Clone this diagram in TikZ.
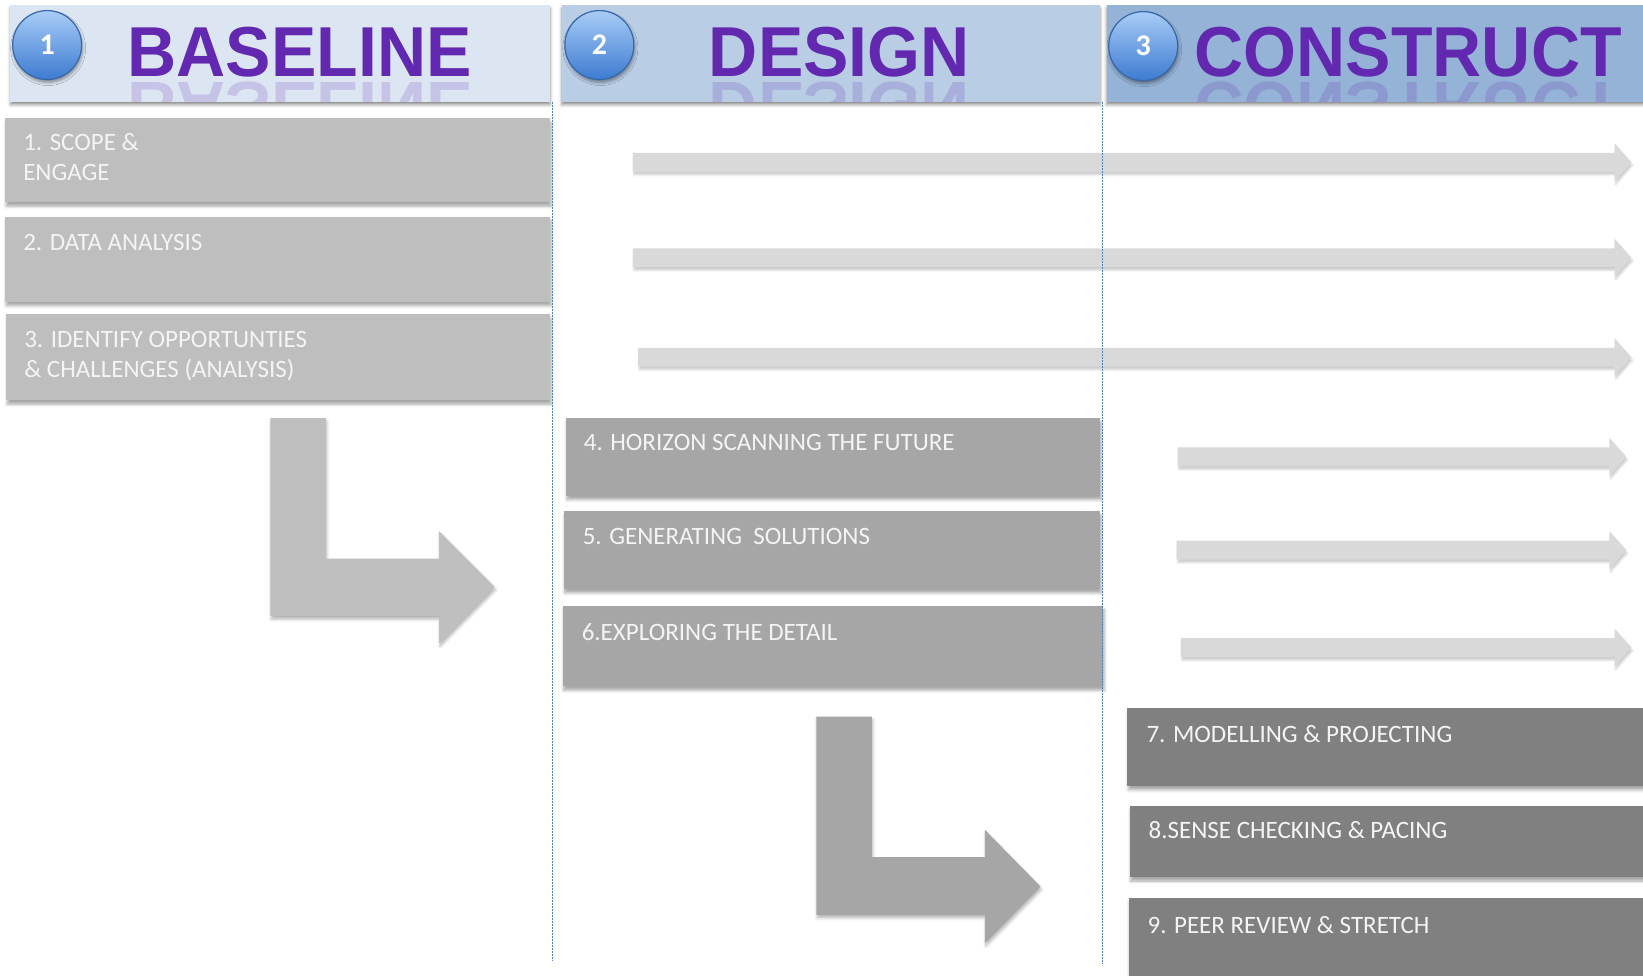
\documentclass[tikz,border=0pt]{standalone}
\usepackage{fontspec}
\setmainfont{Carlito}
\newfontfamily\titlefont{Liberation Sans}
\usetikzlibrary{fit,shadows.blur}
\definecolor{hdrA}{HTML}{DCE6F2}
\definecolor{hdrB}{HTML}{B9CDE5}
\definecolor{hdrC}{HTML}{95B3D7}
\definecolor{boxA}{HTML}{BEBEBE}
\definecolor{boxB}{HTML}{A6A6A6}
\definecolor{boxC}{HTML}{808080}
\definecolor{arrL}{HTML}{D9D9D9}
\definecolor{bentA}{HTML}{BFBFBF}
\definecolor{bentB}{HTML}{A6A6A6}
\definecolor{ttl}{HTML}{6228B0}
\definecolor{sepline}{HTML}{4F81BD}
\definecolor{ballT}{HTML}{A8CCF7}
\definecolor{ballB}{HTML}{3D7BD0}
\definecolor{ballR}{HTML}{3867A8}
\definecolor{txtW}{HTML}{F4F4F4}
\newcommand\longarr[3]{%
  \fill[larrow] (#1,#3-9) -- (#2-16,#3-9) -- (#2-16,#3-18) -- (#2,#3) -- (#2-16,#3+18) -- (#2-16,#3+9) -- (#1,#3+9) -- cycle;}
\begin{document}
\begin{tikzpicture}[x=1.0479pt, y=-1.0479pt,
  hdr/.style={rectangle, inner sep=0pt, draw=none,
    blur shadow={shadow xshift=0pt, shadow yshift=-3pt, shadow blur radius=3pt, shadow opacity=45}},
  stepbox/.style={rectangle, inner sep=0pt, draw=none,
    blur shadow={shadow xshift=1pt, shadow yshift=-4pt, shadow blur radius=3pt, shadow opacity=35}},
  lbl/.style={anchor=north west, inner sep=0pt, align=left, text=txtW,
    font=\fontsize{25}{30.4}\selectfont},
  ttlstyle/.style={inner sep=0pt, text=ttl, font=\titlefont\bfseries\fontsize{68}{68}\selectfont},
  ballst/.style={circle, minimum size=69pt, inner sep=0pt, top color=ballT, bottom color=ballB,
    draw=ballR, line width=1.2pt, text=white, font=\bfseries\fontsize{30}{30}\selectfont,
    blur shadow={shadow xshift=1pt, shadow yshift=-3pt, shadow blur radius=3pt, shadow opacity=40}},
  larrow/.style={fill=arrL,
    blur shadow={shadow xshift=1pt, shadow yshift=-3pt, shadow blur radius=2pt, shadow opacity=20}},
  bent/.style={blur shadow={shadow xshift=1pt, shadow yshift=-3pt, shadow blur radius=3pt, shadow opacity=30}},
  sep/.style={draw=sepline, line width=0.8pt, dash pattern=on 2pt off 1pt}
]
\useasboundingbox (0,0) rectangle (1568,931);
\clip (0,0) rectangle (1568,931);

% headers
\node[hdr, fill=hdrA, fit={(10,5) (525,97)}] (h1) {};
\node[hdr, fill=hdrB, fit={(536,5) (1050,97)}] (h2) {};
\node[hdr, fill=hdrC, fit={(1056,5) (1575,97)}] (h3) {};

\begin{scope}
  \clip (10,5) rectangle (525,97);
  \node[ttlstyle, yscale=-1.04, anchor=base, opacity=0.18] (r1) at (286,79) {BASELINE};
\end{scope}
\begin{scope}
  \clip (536,5) rectangle (1050,97);
  \node[ttlstyle, yscale=-1.04, anchor=base, opacity=0.18] (r2) at (801,79) {DESIGN};
\end{scope}
\begin{scope}
  \clip (1056,5) rectangle (1575,97);
  \node[ttlstyle, yscale=-1.04, anchor=base, opacity=0.18] (r3) at (1344,79) {CONSTRUCT};
\end{scope}

\node[ttlstyle, yscale=1.04] (t1) at (286,50) {BASELINE};
\node[ttlstyle, yscale=1.04] (t2) at (801,50) {DESIGN};
\node[ttlstyle, yscale=1.04] (t3) at (1344,50) {CONSTRUCT};

\node[ballst] (c1) at (45,43) {1};
\node[ballst] (c2) at (572,43) {2};
\node[ballst] (c3) at (1091,44) {3};

% step boxes
\node[stepbox, fill=boxA, fit={(5,113) (525,193)}] (b1) {};
\node[stepbox, fill=boxA, fit={(5,207) (525,288)}] (b2) {};
\node[stepbox, fill=boxA, fit={(6,300) (525,382)}] (b3) {};
\node[stepbox, fill=boxB, fit={(540,399) (1050,473)}] (b4) {};
\node[stepbox, fill=boxB, fit={(538,488) (1050,562)}] (b5) {};
\node[stepbox, fill=boxB, fit={(537,578) (1053,655)}] (b6) {};
\node[stepbox, fill=boxC, fit={(1076,676) (1575,750)}] (b7) {};
\node[stepbox, fill=boxC, fit={(1078,769) (1575,837)}] (b8) {};
\node[stepbox, fill=boxC, fit={(1077,857) (1575,940)}] (b9) {};

\node[lbl] (l1) at (22,127) {1. SCOPE \&\\ENGAGE};
\node[lbl] (l2) at (22,223) {2. DATA ANALYSIS};
\node[lbl] (l3) at (23,316) {3. IDENTIFY OPPORTUNTIES\\\& CHALLENGES (ANALYSIS)};
\node[lbl] (l4) at (557,414) {4. HORIZON SCANNING THE FUTURE};
\node[lbl] (l5) at (556,504) {5. GENERATING\ \ SOLUTIONS};
\node[lbl] (l6) at (555,595) {6.EXPLORING THE DETAIL};
\node[lbl] (l7) at (1094,692) {7. MODELLING \& PROJECTING};
\node[lbl] (l8) at (1096,784) {8.SENSE CHECKING \& PACING};
\node[lbl] (l9) at (1095,874) {9. PEER REVIEW \& STRETCH};

% long arrows
\longarr{604}{1557}{155}
\longarr{604}{1557}{246}
\longarr{609}{1557}{341}
\longarr{1124}{1552}{436}
\longarr{1123}{1552}{525}
\longarr{1127}{1557}{618}

% bent arrows
\fill[bent, fill=bentA] (258,399) -- (311,399) -- (311,533) -- (419,533) -- (419,507) -- (472,560)
  -- (419,614) -- (419,588) -- (258,588) -- cycle;
\fill[bent, fill=bentB] (779,684) -- (832,684) -- (832,818) -- (940,818) -- (940,792) -- (993,846)
  -- (940,900) -- (940,873) -- (779,873) -- cycle;

% separators
\coordinate (s1a) at (527,97);
\coordinate (s1b) at (527,916);
\coordinate (s2a) at (1052,97);
\coordinate (s2b) at (1052,919);
\draw[sep] (s1a) -- (s1b);
\draw[sep] (s2a) -- (s2b);
\end{tikzpicture}
\end{document}
